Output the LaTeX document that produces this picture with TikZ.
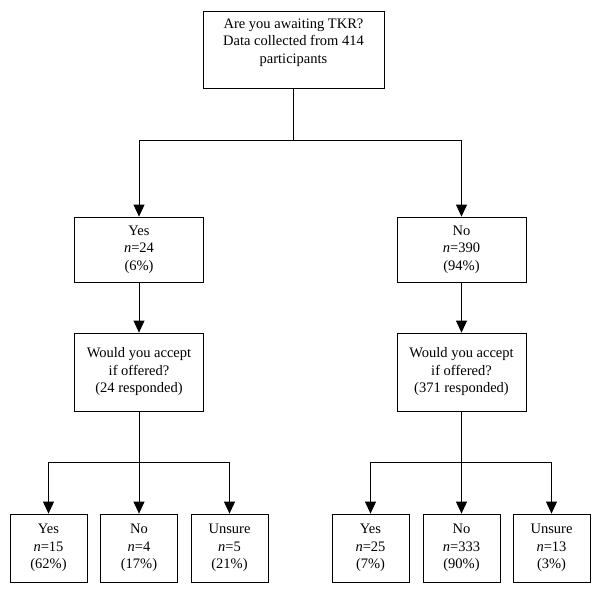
\documentclass[tikz,border=0pt]{standalone}
\usepackage{fontspec}
\setmainfont{Liberation Serif}
\usetikzlibrary{arrows.meta, positioning}
\tikzset{
	box/.style={draw, rectangle, thick, align=center, inner sep=2pt, font=\fontsize{14.5}{17.5}\selectfont},
	% reply boxes at the bottom
	reply/.style={box, minimum width=77pt, minimum height=68pt},
	question/.style={box, minimum width=129pt, minimum height=78pt},
	group/.style={box, minimum width=129pt, minimum height=65pt},
}

\begin{document}
\begin{tikzpicture}[x=1pt, y=-1pt]
				\useasboundingbox (0,0) rectangle (600,592);
				
				\node (tkr) [box, minimum width=181pt, minimum height=77pt] at (293.5,49.5) {Are you awaiting TKR?\\Data collected from 414\\participants\\ \mbox{}};
				
				\node (yes) [group] at (139,249.5) {Yes\\\textit{n}=24\\(6\%)};
				\node (no) [group] at (461.5,249.5) {No\\\textit{n}=390\\(94\%)};
				
				\node (qyes) [question] at (139,372) {Would you accept\\if offered?\\(24 responded)};
				\node (qno) [question] at (461.5,372) {Would you accept\\if offered?\\(371 responded)};
				
				\node (yyes) [reply] at (48.5,548) {Yes\\\textit{n}=15\\(62\%)};
				\node (yno) [reply] at (139,548) {No\\\textit{n}=4\\(17\%)};
				\node (yuns) [reply] at (229.5,548) {Unsure\\\textit{n}=5\\(21\%)};
				
				\node (nyes) [reply] at (370.5,548) {Yes\\\textit{n}=25\\(7\%)};
				\node (nno) [reply] at (461.5,548) {No\\\textit{n}=333\\(90\%)};
				\node (nuns) [reply] at (551.5,548) {Unsure\\\textit{n}=13\\(3\%)};
				
				\coordinate (split) at (293.5,140);
				\coordinate (ysplit) at (139,462);
				\coordinate (nsplit) at (461.5,462);
				
				\begin{scope}[thick, black, -{Triangle[length=12pt, width=11pt]}]
					\draw[-] (tkr) -- (split);
					\draw (split) -| (yes);
					\draw (split) -| (no);
					\draw (yes) -- (qyes);
					\draw (no) -- (qno);
					\draw[-] (qyes) -- (ysplit);
					\draw (ysplit) -| (yyes);
					\draw (ysplit) -- (yno);
					\draw (ysplit) -| (yuns);
					\draw[-] (qno) -- (nsplit);
					\draw (nsplit) -| (nyes);
					\draw (nsplit) -- (nno);
					\draw (nsplit) -| (nuns);
				\end{scope}
				
			\end{tikzpicture}
\end{document}
